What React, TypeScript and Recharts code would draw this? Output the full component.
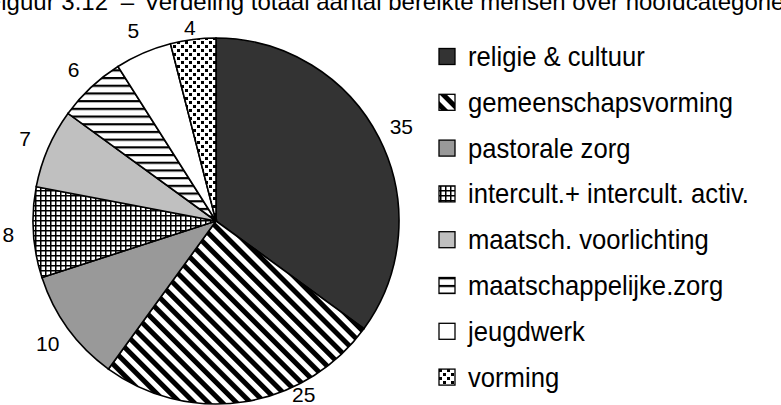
import React from 'react';
import { PieChart, Pie, Cell, Legend } from 'recharts';

const categories = [
  'religie & cultuur',
  'gemeenschapsvorming',
  'pastorale zorg',
  'intercult.+ intercult. activ.',
  'maatsch. voorlichting',
  'maatschappelijke.zorg',
  'jeugdwerk',
  'vorming',
];
const values = [35, 25, 10, 8, 7, 6, 5, 4];
const fills = [
  '#333333',
  'url(#pStripes)',
  '#999999',
  'url(#pGrid)',
  '#c0c0c0',
  'url(#pHoriz)',
  '#ffffff',
  'url(#pDots)',
];
const titleLead = 'Figuur 3.12';
const titleDash = '–';
const titleRest = 'Verdeling totaal aantal bereikte mensen over hoofdcategorieën';

const data = categories.map((name, i) => ({ name, value: values[i] }));

const FONT = '"Liberation Sans", Arial, sans-serif';
const W = 781;
const H = 405;

const RADIAN = Math.PI / 180;
const renderLabel = (props: any) => {
  const { cx, cy, midAngle, outerRadius, value } = props;
  const r = outerRadius + 25;
  let x = cx + r * Math.cos(-midAngle * RADIAN);
  let y = cy + r * Math.sin(-midAngle * RADIAN);
  const minY = 27;
  const maxY = 394;
  if (y < minY) y = minY;
  if (y > maxY) {
    y = maxY;
    const rr = r - 14;
    const dy = y - cy;
    const sign = x >= cx ? 1 : -1;
    x = cx + sign * Math.sqrt(Math.max(0, rr * rr - dy * dy));
  }
  return (
    <text
      x={x}
      y={y}
      textAnchor="middle"
      dominantBaseline="central"
      fontFamily={FONT}
      fontSize={21}
      fill="#000"
    >
      {value}
    </text>
  );
};

const renderLegend = () => (
  <svg width={351} height={405} style={{ display: 'block' }}>
    {categories.map((name, i) => {
      const cyItem = 56.5 + i * 45.8;
      return (
        <g key={name}>
          <rect
            x={9}
            y={cyItem - 8}
            width={16}
            height={16}
            fill={fills[i]}
            stroke="#000"
            strokeWidth={1.3}
          />
          <text
            x={38}
            y={cyItem + 9.5}
            fontFamily={FONT}
            fontSize={27}
            fill="#000"
            transform={`translate(38 0) scale(0.95 1) translate(-38 0)`}
          >
            {name}
          </text>
        </g>
      );
    })}
  </svg>
);

export default function App() {
  return (
    <div style={{ position: 'absolute', left: 0, top: 0, width: W, height: H, background: '#fff', overflow: 'hidden' }}>
      <svg width={0} height={0} style={{ position: 'absolute' }}>
        <defs>
          <pattern id="pStripes" patternUnits="userSpaceOnUse" width={10} height={10} patternTransform="rotate(-45)">
            <rect x={0} y={0} width={10} height={10} fill="#fff" />
            <rect x={0} y={0} width={5} height={10} fill="#000" />
          </pattern>
          <pattern id="pGrid" patternUnits="userSpaceOnUse" width={5} height={5}>
            <rect x={0} y={0} width={5} height={5} fill="#fff" />
            <rect x={0} y={0} width={5} height={1.5} fill="#000" />
            <rect x={0} y={0} width={1.5} height={5} fill="#000" />
          </pattern>
          <pattern id="pHoriz" patternUnits="userSpaceOnUse" width={8} height={7.7}>
            <rect x={0} y={0} width={8} height={7.7} fill="#fff" />
            <rect x={0} y={0} width={8} height={2.2} fill="#000" />
          </pattern>
          <pattern id="pDots" patternUnits="userSpaceOnUse" width={8} height={8}>
            <rect x={0} y={0} width={8} height={8} fill="#fff" />
            <rect x={1} y={1} width={3} height={3} fill="#000" />
            <rect x={5} y={5} width={3} height={3} fill="#000" />
          </pattern>
        </defs>
      </svg>
      <PieChart width={W} height={H} margin={{ top: 0, right: 0, bottom: 0, left: 0 }}>
        <Pie
          data={data}
          dataKey="value"
          nameKey="name"
          cx={216}
          cy={221}
          outerRadius={183}
          startAngle={90}
          endAngle={-270}
          isAnimationActive={false}
          label={renderLabel}
          labelLine={false}
        >
          {data.map((d, i) => (
            <Cell key={d.name} fill={fills[i]} stroke="#000" strokeWidth={1.6} />
          ))}
        </Pie>
        <Legend
          content={renderLegend}
          wrapperStyle={{ position: 'absolute', left: 430, top: 0, width: 351, height: 405 }}
        />
      </PieChart>
      <svg width={W} height={30} style={{ position: 'absolute', left: 0, top: 0, pointerEvents: 'none' }}>
        <text x={108} y={10} textAnchor="end" fontFamily={FONT} fontSize={24} fill="#000">
          {titleLead}
        </text>
        <text x={127.5} y={10} textAnchor="middle" fontFamily={FONT} fontSize={24} fill="#000">
          {titleDash}
        </text>
        <text x={144} y={10} fontFamily={FONT} fontSize={24} fill="#000">
          {titleRest}
        </text>
      </svg>
    </div>
  );
}
